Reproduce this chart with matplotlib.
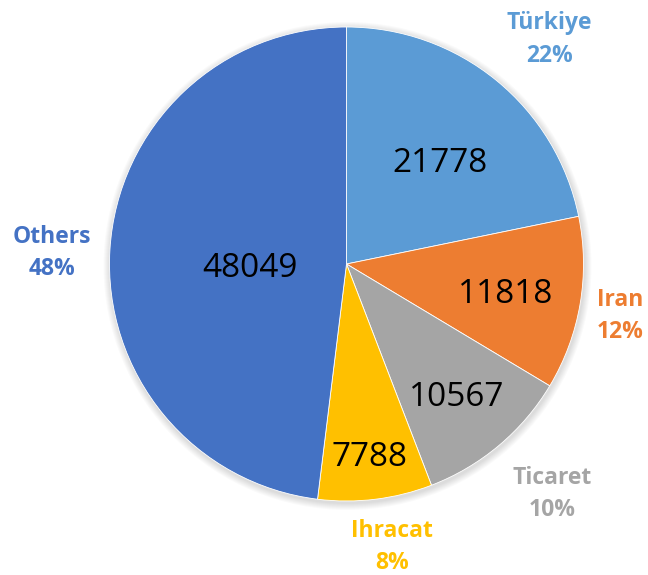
import matplotlib
matplotlib.use("Agg")
import matplotlib.pyplot as plt
import numpy as np
from matplotlib.patches import Circle

# slice data, clockwise from 12 o'clock
labels = ["Türkiye", "Iran", "Ticaret", "Ihracat", "Others"]
values = [21778, 11818, 10567, 7788, 48049]
percents = [22, 12, 10, 8, 48]
colors = ["#5B9BD5", "#ED7D31", "#A5A5A5", "#FFC000", "#4472C4"]

# label placement: fraction of radius and angular nudge (deg) from slice middle
inner_r = [0.589, 0.68, 0.72, 0.81, 0.406]
inner_da = [-2.9, 0.0, 0.0, 0.0, 4.7]
outer_r = [1.284, 1.175, 1.294, 1.201, 1.245]
outer_da = [-2.7, -0.6, 2.0, 2.2, 0.9]

W, H = 648, 575
fig = plt.figure(figsize=(W / 100, H / 100), dpi=100)
ax = fig.add_axes([0, 0, 1, 1])

cx, cy, R = 346.5, H - 264, 237

# soft drop shadow around the pie
for k in range(1, 8):
    ax.add_patch(Circle((cx + 1, cy - 2), R + k, color="black",
                        alpha=0.018, lw=0, zorder=0))

wedges, _ = ax.pie(values, colors=colors, startangle=90, counterclock=False,
                   center=(cx, cy), radius=R, frame=True,
                   wedgeprops=dict(edgecolor="white", linewidth=0.6, zorder=1))
ax.set_xlim(0, W)
ax.set_ylim(0, H)
ax.set_aspect("equal")
ax.axis("off")

for i, w in enumerate(wedges):
    mid = (w.theta1 + w.theta2) / 2
    a_in = np.deg2rad(mid + inner_da[i])
    a_out = np.deg2rad(mid + outer_da[i])
    ax.text(cx + inner_r[i] * R * np.cos(a_in),
            cy + inner_r[i] * R * np.sin(a_in) - 3, f"{values[i]}",
            ha="center", va="center", fontsize=24, color="black",
            family="Open Sans", zorder=3)
    ax.text(cx + outer_r[i] * R * np.cos(a_out),
            cy + outer_r[i] * R * np.sin(a_out) - 2,
            f"{labels[i]}\n{percents[i]}%", ha="center", va="center",
            fontsize=16.5, color=colors[i], fontweight="bold",
            family="Open Sans", linespacing=1.45, zorder=3)

fig.savefig("out.png", dpi=100)
